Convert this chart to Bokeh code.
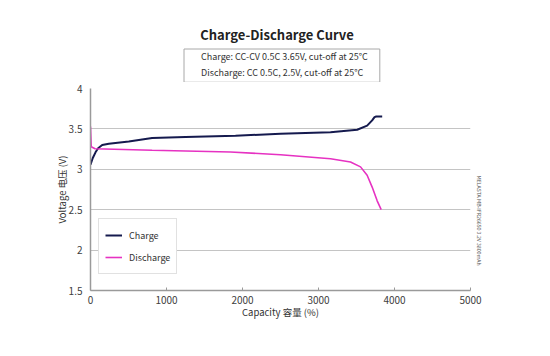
from bokeh.plotting import figure
from bokeh.layouts import column
from bokeh.models import Label, Legend, LegendItem, NumeralTickFormatter, FixedTicker, Range1d, Title
from bokeh.embed import file_html
from bokeh.resources import INLINE

# ---- data ----
charge_capacity = [0, 30, 66, 100, 154, 241, 504, 811, 1250, 1908, 2500, 3158, 3509, 3640, 3706, 3737, 3760, 3838]
charge_voltage = [3.058, 3.14, 3.21, 3.26, 3.30, 3.317, 3.345, 3.386, 3.40, 3.415, 3.44, 3.46, 3.49, 3.54, 3.605, 3.645, 3.654, 3.654]

discharge_capacity = [0, 10, 60, 811, 1842, 2500, 3158, 3421, 3553, 3640, 3706, 3772, 3825]
discharge_voltage = [3.53, 3.28, 3.255, 3.235, 3.214, 3.18, 3.13, 3.09, 3.03, 2.926, 2.78, 2.61, 2.50]

x_ticks = [0, 1000, 2000, 3000, 4000, 5000]
y_ticks = [1.5, 2, 2.5, 3, 3.5, 4]

title_text = "Charge-Discharge Curve"
subtitle_text = "Charge: CC-CV 0.5C 3.65V, cut-off at 25\u00b0C\nDischarge: CC 0.5C, 2.5V, cut-off at 25\u00b0C"
side_text = "MELASTA MB-IFR26650 3.2V 3800mAh"

FONT = "Noto Sans CJK SC"

# ---- header figure (title + condition box), page-pixel coordinates ----
top = figure(frame_width=380, frame_height=82, output_backend="svg", toolbar_location=None,
             x_range=Range1d(90, 470), y_range=Range1d(82, 0),
             min_border_left=90, min_border_right=20, min_border_top=0, min_border_bottom=0)
top.axis.visible = False
top.grid.visible = False
top.outline_line_color = None
top.add_layout(Label(x=276.5, y=34, text=title_text, text_align="center", text_baseline="middle",
                     text_font=FONT, text_font_size="13px", text_font_style="bold", text_color="#222222"))
top.add_layout(Label(x=183.5, y=48.5, text=subtitle_text, text_align="left", text_baseline="top",
                     anchor="top_left",
                     text_font=FONT, text_font_size="9px", text_color="#333333", text_line_height=1.25,
                     border_line_color="#a8a8a8", border_line_width=1, background_fill_color="white",
                     padding=dict(left=17, right=12, top=1, bottom=3)))

# ---- main chart ----
p = figure(frame_width=380, frame_height=202, output_backend="svg", toolbar_location=None,
           x_range=Range1d(0, 5000), y_range=Range1d(1.5, 4),
           min_border_left=90, min_border_right=20, min_border_top=6, min_border_bottom=58)
p.outline_line_color = None
p.background_fill_color = "white"

p.xgrid.grid_line_color = None
p.ygrid.ticker = FixedTicker(ticks=y_ticks)
p.ygrid.grid_line_color = "#c4c4c4"
p.ygrid.grid_line_width = 1

p.xaxis.ticker = FixedTicker(ticks=x_ticks)
p.yaxis.ticker = FixedTicker(ticks=y_ticks)
p.yaxis.formatter = NumeralTickFormatter(format="0.[0]")
for ax in (p.xaxis[0], p.yaxis[0]):
    ax.axis_line_color = "#9a9a9a"
    ax.axis_line_width = 1.5
    ax.major_label_text_font = FONT
    ax.major_label_text_font_size = "10px"
    ax.major_label_text_color = "#404040"
    ax.axis_label_text_font = FONT
    ax.axis_label_text_font_size = "9.5px"
    ax.axis_label_text_font_style = "normal"
    ax.axis_label_text_color = "#333333"
    ax.minor_tick_line_color = None
    ax.major_tick_line_color = "#9a9a9a"
p.xaxis.major_tick_in = 3
p.xaxis.major_tick_out = 0
p.xaxis.major_label_standoff = 5
p.xaxis.axis_label = "Capacity 容量 (%)"
p.xaxis.axis_label_standoff = -2
p.yaxis.major_tick_in = 0
p.yaxis.major_tick_out = 0
p.yaxis.major_label_text_align = "center"
p.yaxis.major_label_standoff = 8
p.yaxis.axis_label = "Voltage 电压 (V)"
p.yaxis.axis_label_standoff = -3

r_charge = p.line(charge_capacity, charge_voltage, line_color="#151a4e", line_width=2)
r_dis = p.line(discharge_capacity, discharge_voltage, line_color="#e632c2", line_width=1.6)

legend = Legend(items=[LegendItem(label="Charge", renderers=[r_charge]),
                       LegendItem(label="Discharge", renderers=[r_dis])],
                location=(8, 16), margin=0, padding=6, spacing=2,
                glyph_width=17, glyph_height=20, label_standoff=7,
                label_text_font=FONT, label_text_font_size="9px", label_text_color="#333333",
                border_line_color="#c4c4c4", border_line_width=1, background_fill_color="white",
                background_fill_alpha=1)
p.add_layout(legend)

p.add_layout(Title(text=side_text, align="left", offset=87, standoff=10,
                   text_font=FONT, text_font_size="5.2px", text_font_style="normal",
                   text_color="#555555"), "right")

layout = column(top, p, spacing=0)
open("out.html", "w").write(file_html(layout, INLINE))
